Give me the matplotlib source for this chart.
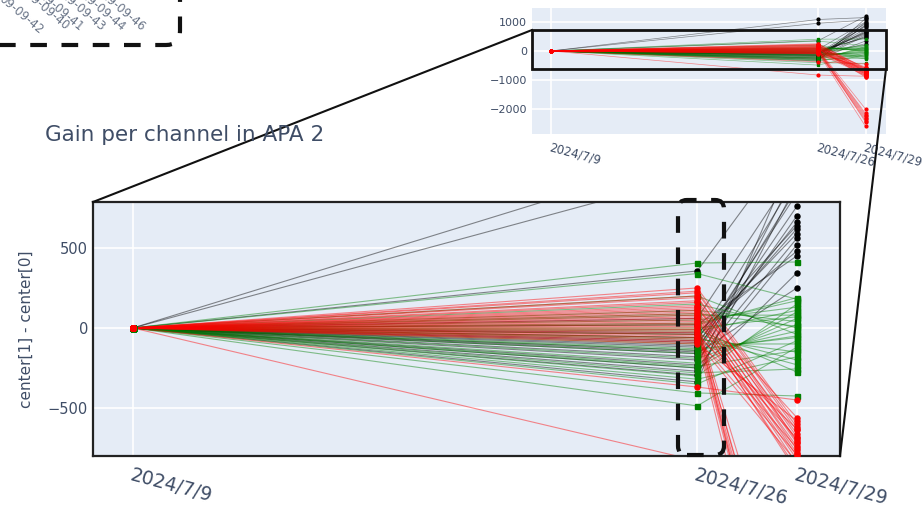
import numpy as np
import pandas as pd
import matplotlib.pyplot as plt
from matplotlib.patches import FancyBboxPatch, Rectangle
from matplotlib.lines import Line2D
from matplotlib.transforms import IdentityTransform

# dates of the three runs
dates = pd.to_datetime(['2024-07-09', '2024-07-26', '2024-07-29'])
date_labels = ['2024/7/9', '2024/7/26', '2024/7/29']

# center[1] - center[0] per channel, first run is the reference (0)
black_d26 = [1085, 956, 356, -231, -294, -337, -150, -180, -120, -90, -60,
             -200, -250, -30, 20, 60, -110, -270, -160, -80, -140, -40]
black_d29 = [1150, 1060, 1200, 980, 900, 1120, 760, 700, 660, 620, 590,
             560, 520, 480, 450, 1000, 840, 344, 250, 940, 870, 640]

green_d26 = [406, 340, -281, -406, -487, -300, -250, -220, -190, -160,
             -130, -100, -70, -40, -10, 20, 50, 80, 110, 150, 200, -350,
             -320, -60, -20, 30, 90, -140, -240, 0]
green_d29 = [412, 180, -256, -425, -120, 150, 100, 60, 20, -20, -60, -100,
             -150, -200, -275, 190, 130, 80, 40, 0, -40, -80, -180, -230,
             110, 170, 10, -50, -140, 70]

red_d26 = [-369, -830, 250, 220, 190, 160, 130, 100, 80, 60, 40, 20, 0,
           -20, -40, -60, -80, -100, 230, 170, 140, 110, 90, 70, 50, 30, 10,
           -10, -30, -50, -70, -90, 200, 120]
red_d29 = [-450, -870, -600, -640, -680, -720, -760, -800, -850, -900,
           -2000, -2150, -2250, -2300, -2350, -2400, -2600, -580, -620, -660,
           -700, -740, -780, -820, -880, -2200, -2450, -690, -750, -630, -790,
           -840, -710, -560]

# labels cut off at the top left corner
corner_labels = ['09-42', '09-40', '09-41', '09-43', '09-44', '09-46']

groups = [
    (black_d26, black_d29, 'black', 'o'),
    (green_d26, green_d29, 'green', 's'),
    (red_d26, red_d29, 'red', 'o'),
]

BG = '#E5ECF6'
TXT = '#3f4d66'
W, H = 924, 508


def draw_channels(ax, lw, ms):
    for d26, d29, col, mk in groups:
        for a, b in zip(d26, d29):
            ax.plot(dates, [0, a, b], color=col, lw=lw, alpha=0.45, zorder=2)
            ax.plot(dates, [0, a, b], color=col, lw=0, marker=mk, ms=ms,
                    zorder=3)


def style_axes(ax, fs):
    ax.set_facecolor(BG)
    ax.set_xticks(dates)
    ax.set_xticklabels(date_labels, rotation=-15, rotation_mode='anchor',
                       ha='left', va='top', fontsize=fs, color=TXT)
    ax.grid(True, color='white', lw=1.2, zorder=0)
    ax.set_axisbelow(True)
    ax.tick_params(length=0, colors=TXT)
    ax.set_xlim(dates[0] - pd.Timedelta(days=1.2),
                dates[-1] + pd.Timedelta(days=1.3))


fig = plt.figure(figsize=(9.24, 5.08), dpi=100)

# main zoomed plot
ax = fig.add_axes([93 / W, 1 - 456 / H, 747 / W, 254 / H])
style_axes(ax, 13.5)
ax.set_ylim(-800, 787)
draw_channels(ax, 0.8, 3.6)
ax.set_yticks([-500, 0, 500])
ax.set_yticklabels(['\u2212500', '0', '500'], fontsize=10.5, color=TXT)
ax.tick_params(axis='x', pad=7)
for s in ax.spines.values():
    s.set_color('#222222')
    s.set_linewidth(1.6)
ax.set_ylabel('center[1] - center[0]', fontsize=11, color=TXT, labelpad=10)

# overview inset
ax2 = fig.add_axes([532 / W, 1 - 134 / H, 354 / W, 126 / H])
style_axes(ax2, 8.5)
ax2.set_ylim(-2860, 1480)
draw_channels(ax2, 0.5, 2.0)
ax2.set_yticks([-2000, -1000, 0, 1000])
ax2.set_yticklabels(['\u22122000', '\u22121000', '0', '1000'], fontsize=8,
                    color=TXT)
ax2.tick_params(axis='x', pad=5)
for s in ax2.spines.values():
    s.set_visible(False)
ax2.add_patch(Rectangle((0, -620), 1, 1344, transform=ax2.get_yaxis_transform(),
                        fill=False, ec='#111111', lw=2, zorder=5, clip_on=False))

fig.text(45 / W, 1 - 135 / H, 'Gain per channel in APA 2', fontsize=15.5,
         color=TXT, va='center', ha='left')

# connector lines between the inset box and the main plot
ident = IdentityTransform()
for (x0, y0), (x1, y1) in [((532, 30), (93, 202)), ((886, 69), (840, 456))]:
    fig.add_artist(Line2D([x0, x1], [H - y0, H - y1], color='#111111', lw=1.5,
                          transform=ident))

# dashed selection boxes
box = FancyBboxPatch((678, H - 455), 46, 255,
                     boxstyle='round,pad=0,rounding_size=9', transform=ident,
                     fill=False, ec='#111111', lw=3,
                     linestyle=(0, (4, 3.5)), zorder=10)
fig.add_artist(box)
corner = FancyBboxPatch((-60, H - 45), 240, 100,
                        boxstyle='round,pad=0,rounding_size=14', transform=ident,
                        fill=False, ec='#111111', lw=3, linestyle=(0, (4, 3.5)))
fig.add_artist(corner)

ends = [(37, 37), (63, 33), (77, 34), (99, 34), (119, 34), (139, 34)]
for lab, (ex, ey) in zip(corner_labels, ends):
    fig.text(ex / W, 1 - ey / H, '09-' + lab, rotation=-40, fontsize=8.5,
             color='#6a7588', ha='right', va='bottom', rotation_mode='anchor')

fig.savefig('out.png', dpi=100)
